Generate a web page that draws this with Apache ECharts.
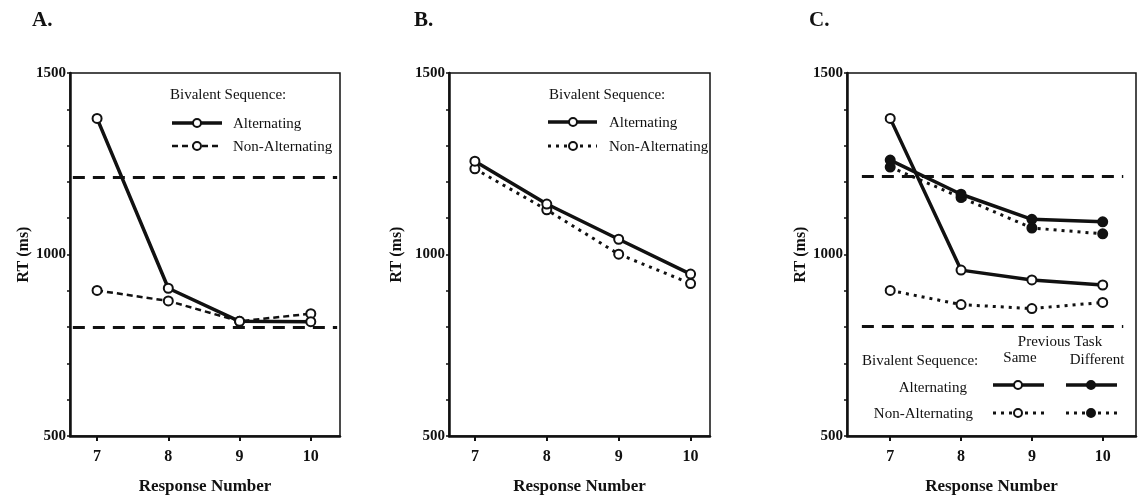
<!DOCTYPE html>
<html>
<head>
<meta charset="utf-8">
<script src="https://cdn.jsdelivr.net/npm/echarts@6/dist/echarts.min.js"></script>
<style>
  html, body { margin: 0; padding: 0; background: #fff; }
  #chart { width: 1138px; height: 500px; }
</style>
</head>
<body>
<div id="chart"></div>
<script>
// Response numbers on the x axis
const responseNumbers = [7, 8, 9, 10];
// Labelled RT ticks
const rtTickLabels = [500, 1000, 1500];

// Panel A: bivalent sequence type
const panelA_alternating = [1375, 907, 816, 815];
const panelA_nonAlternating = [901, 872, 816, 837];
const panelA_refLines = [1212, 800];

// Panel B
const panelB_alternating = [1257, 1139, 1042, 946];
const panelB_nonAlternating = [1236, 1123, 1001, 920];
const panelB_refLines = [1210, 797];

// Panel C: split by previous task (same / different)
const panelC_altSame = [1375, 957, 930, 916];
const panelC_nonAltSame = [901, 862, 851, 868];
const panelC_altDiff = [1260, 1166, 1097, 1090];
const panelC_nonAltDiff = [1241, 1157, 1073, 1057];
const panelC_refLines = [1215, 803];

const INK = '#111';
const SERIF = '"Liberation Serif", "DejaVu Serif", serif';

const panels = [
  { left: 70,  width: 270, xMin: 6.62, xMax: 10.41, refFrom: 6.66, refTo: 10.37, nameGap: 37 },
  { left: 449, width: 261, xMin: 6.64, xMax: 10.27, refFrom: 6.7,  refTo: 10.3,  nameGap: 44 },
  { left: 847, width: 289, xMin: 6.39, xMax: 10.47, refFrom: 6.6,  refTo: 10.29, nameGap: 36 }
];

const grids = panels.map(p => ({
  left: p.left, width: p.width, top: 73, height: 363,
  show: true, borderColor: INK, borderWidth: 1.5, backgroundColor: 'transparent'
}));

const xAxes = panels.map((p, i) => ({
  type: 'value', gridIndex: i, min: p.xMin, max: p.xMax,
  name: 'Response Number', nameLocation: 'middle', nameGap: 42,
  nameTextStyle: { fontFamily: SERIF, fontWeight: 'bold', fontSize: 17, color: INK },
  axisLine: { onZero: false, lineStyle: { color: INK, width: 2.5 } },
  axisTick: { show: true, customValues: responseNumbers, length: 5, lineStyle: { color: INK, width: 2 } },
  axisLabel: { customValues: responseNumbers, margin: 13, fontFamily: SERIF, fontWeight: 'bold', fontSize: 16, color: INK },
  splitLine: { show: false }
}));

const yAxes = panels.map((p, i) => ({
  type: 'value', gridIndex: i, min: 500, max: 1500, interval: 100,
  name: 'RT (ms)', nameLocation: 'middle', nameGap: p.nameGap, nameRotate: 90,
  nameTextStyle: { fontFamily: SERIF, fontWeight: 'bold', fontSize: 16, color: INK },
  axisLine: { show: true, onZero: false, lineStyle: { color: INK, width: 2.5 } },
  axisTick: { show: true, length: 3, lineStyle: { color: INK, width: 1.5 } },
  axisLabel: {
    customValues: rtTickLabels, margin: 4, formatter: v => String(v),
    fontFamily: SERIF, fontWeight: 'bold', fontSize: 15, color: INK
  },
  splitLine: { show: false }
}));

function pairs(values) {
  return responseNumbers.map((x, k) => [x, values[k]]);
}

function refMarkLine(p, values) {
  return {
    silent: true, symbol: 'none', animation: false,
    label: { show: false },
    lineStyle: { color: INK, width: 3, type: [12, 8] },
    data: values.map(v => [{ coord: [p.refFrom, v] }, { coord: [p.refTo, v] }])
  };
}

function seriesOf(name, gridIdx, values, lineType, lineWidth, filled) {
  return {
    name, type: 'line', xAxisIndex: gridIdx, yAxisIndex: gridIdx,
    data: pairs(values), symbol: 'circle', symbolSize: 9, z: 5,
    lineStyle: { color: INK, width: lineWidth, type: lineType },
    itemStyle: { color: filled ? INK : '#fff', borderColor: INK, borderWidth: 2 },
    emphasis: { disabled: true }, animation: false
  };
}

const series = [
  // A
  Object.assign(seriesOf('Non-Alternating', 0, panelA_nonAlternating, [6, 4], 2.5, false), { markLine: refMarkLine(panels[0], panelA_refLines) }),
  seriesOf('Alternating', 0, panelA_alternating, 'solid', 3.5, false),
  // B
  Object.assign(seriesOf('Non-Alternating', 1, panelB_nonAlternating, [3, 5], 3, false), { markLine: refMarkLine(panels[1], panelB_refLines) }),
  seriesOf('Alternating', 1, panelB_alternating, 'solid', 3.5, false),
  // C
  Object.assign(seriesOf('Non-Alternating / Same', 2, panelC_nonAltSame, [3, 5], 3, false), { markLine: refMarkLine(panels[2], panelC_refLines) }),
  seriesOf('Non-Alternating / Different', 2, panelC_nonAltDiff, [3, 5], 3, true),
  seriesOf('Alternating / Different', 2, panelC_altDiff, 'solid', 3.5, true),
  seriesOf('Alternating / Same', 2, panelC_altSame, 'solid', 3.5, false)
];

// Hand-drawn legend keys and panel letters
function txt(text, x, y, opts) {
  opts = opts || {};
  const align = opts.align || 'left';
  return {
    type: 'text', silent: true, z: 20,
    style: {
      text, x, y,
      font: (opts.weight || 'normal') + ' ' + (opts.size || 15) + 'px ' + SERIF,
      fill: INK, align, textAlign: align, verticalAlign: 'middle', textVerticalAlign: 'middle'
    }
  };
}
function keyLine(x1, x2, y, dash, width) {
  return {
    type: 'line', silent: true, z: 20,
    shape: { x1, y1: y, x2, y2: y },
    style: { stroke: INK, lineWidth: width, lineDash: dash }
  };
}
function keyDot(cx, cy, filled) {
  return {
    type: 'circle', silent: true, z: 21,
    shape: { cx, cy, r: 4 },
    style: { fill: filled ? INK : '#fff', stroke: INK, lineWidth: 2 }
  };
}

const graphic = [
  txt('A.', 32, 21, { weight: 'bold', size: 21 }),
  txt('B.', 414, 21, { weight: 'bold', size: 21 }),
  txt('C.', 809, 21, { weight: 'bold', size: 21 }),

  // Panel A key
  txt('Bivalent Sequence:', 170, 95),
  keyLine(172, 222, 123, null, 3.5), keyDot(197, 123, false), txt('Alternating', 233, 124),
  keyLine(172, 222, 146, [6, 4], 2.5), keyDot(197, 146, false), txt('Non-Alternating', 233, 147),

  // Panel B key
  txt('Bivalent Sequence:', 549, 95),
  keyLine(548, 597, 122, null, 3.5), keyDot(573, 122, false), txt('Alternating', 609, 123),
  keyLine(548, 597, 146, [3, 5], 3), keyDot(573, 146, false), txt('Non-Alternating', 609, 147),

  // Panel C key
  txt('Previous Task', 1060, 342, { align: 'center' }),
  txt('Same', 1020, 358, { align: 'center' }),
  txt('Different', 1097, 360, { align: 'center' }),
  txt('Bivalent Sequence:', 862, 361),
  txt('Alternating', 967, 388, { align: 'right' }),
  txt('Non-Alternating', 973, 414, { align: 'right' }),
  keyLine(993, 1044, 385, null, 3.5), keyDot(1018, 385, false),
  keyLine(1066, 1117, 385, null, 3.5), keyDot(1091, 385, true),
  keyLine(993, 1044, 413, [3, 5], 3), keyDot(1018, 413, false),
  keyLine(1066, 1117, 413, [3, 5], 3), keyDot(1091, 413, true)
];

const chart = echarts.init(document.getElementById('chart'), null, { renderer: 'canvas' });
chart.setOption({
  backgroundColor: '#fff',
  animation: false,
  grid: grids,
  xAxis: xAxes,
  yAxis: yAxes,
  series,
  graphic
});
</script>
</body>
</html>
